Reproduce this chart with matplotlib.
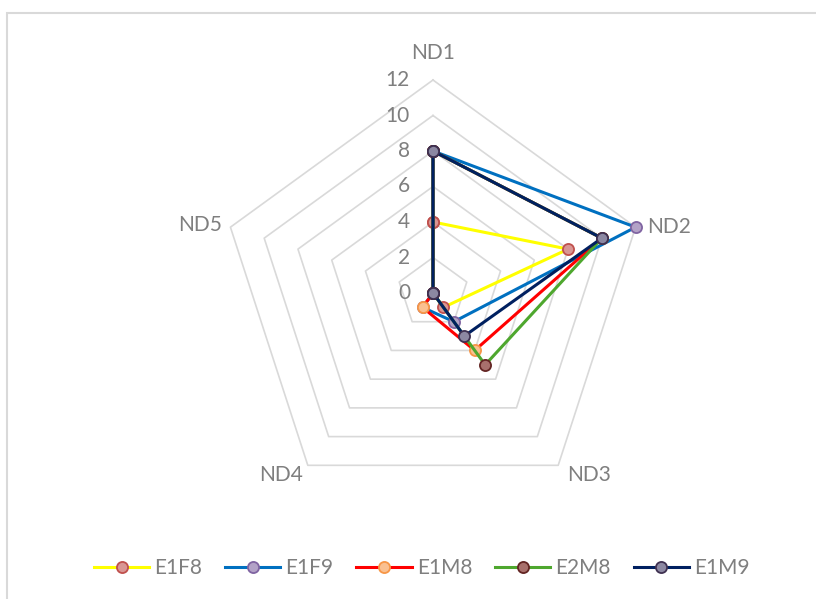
import numpy as np
import matplotlib.pyplot as plt
from matplotlib.transforms import offset_copy
from matplotlib.patches import Rectangle

plt.rcParams['font.family'] = ['Lato', 'DejaVu Sans']

# data
categories = ['ND1', 'ND2', 'ND3', 'ND4', 'ND5']
series_names = ['E1F8', 'E1F9', 'E1M8', 'E2M8', 'E1M9']
E1F8 = [4, 8, 1, 0, 0]
E1F9 = [8, 12, 2, 1, 0]
E1M8 = [8, 10, 4, 1, 0]
E2M8 = [8, 10, 5, 0, 0]
E1M9 = [8, 10, 3, 0, 0]
r_ticks = [0, 2, 4, 6, 8, 10, 12]

line_colors = ['#FFFF00', '#0070C0', '#FF0000', '#4EA72E', '#002060']
marker_faces = ['#D99694', '#B3A2C7', '#FAC090', '#A8706C', '#8C88A2']
marker_edges = ['#C0504D', '#8064A2', '#F79646', '#632523', '#3F3151']
text_col = '#7F7F7F'
grid_col = '#D9D9D9'

W, H = 816, 599
fig = plt.figure(figsize=(W / 100, H / 100), dpi=100)

# centre of the radar (433, 293) px, outer radius 213 px
cx, cy, R = 433, 293, 213
ax = fig.add_axes([(cx - R) / W, (H - cy - R) / H, 2 * R / W, 2 * R / H], projection='polar')
ax.set_theta_zero_location('N')
ax.set_theta_direction(-1)
ax.set_ylim(0, 12)
ax.grid(False)
ax.spines['polar'].set_visible(False)
ax.set_xticks([])
ax.set_yticks([])
ax.patch.set_alpha(0)

n = len(categories)
theta = np.linspace(0, 2 * np.pi, n, endpoint=False)
theta_closed = np.append(theta, theta[0])

# pentagon gridlines
for r in r_ticks[1:]:
    ax.plot(theta_closed, [r] * (n + 1), color=grid_col, lw=1.2, zorder=1, clip_on=False)

# value labels along ND1 axis
lab_tr = offset_copy(ax.transData, fig=fig, x=-23, y=0, units='dots')
for r in r_ticks:
    ax.text(0, r, str(r), transform=lab_tr, ha='right', va='center',
            fontsize=15, color=text_col)

# category labels around the outside
cat_pos = [(0, 27, 'center', 'center'),
           (12, 0, 'left', 'center'),
           (9, -10, 'left', 'center'),
           (-5, -10, 'right', 'center'),
           (-8, 2, 'right', 'center')]
for t, name, (dx, dy, ha, va) in zip(theta, categories, cat_pos):
    tr = offset_copy(ax.transData, fig=fig, x=dx, y=dy, units='dots')
    ax.text(t, 12, name, transform=tr, ha=ha, va=va, fontsize=15, color=text_col)

all_series = [E1F8, E1F9, E1M8, E2M8, E1M9]
for i, (name, vals) in enumerate(zip(series_names, all_series)):
    v = np.append(vals, vals[0])
    ax.plot(theta_closed, v, color=line_colors[i], lw=2.2, marker='o', ms=8,
            mfc=marker_faces[i], mec=marker_edges[i], mew=1.3,
            label=name, zorder=3 + i, clip_on=False)

fig.legend(loc='center', bbox_to_anchor=(0.517, 1 - 568 / H), ncol=5, frameon=False,
           fontsize=15, handlelength=2.65, columnspacing=1.1, handletextpad=0.25,
           labelcolor=text_col)

# chart border (only left and top edges are visible in the crop)
fig.patches.append(Rectangle((7 / W, -0.1), 1.0, 1.1 - 13 / H, transform=fig.transFigure,
                             fill=False, edgecolor=grid_col, lw=1.5))

fig.savefig('out.png', dpi=100)
